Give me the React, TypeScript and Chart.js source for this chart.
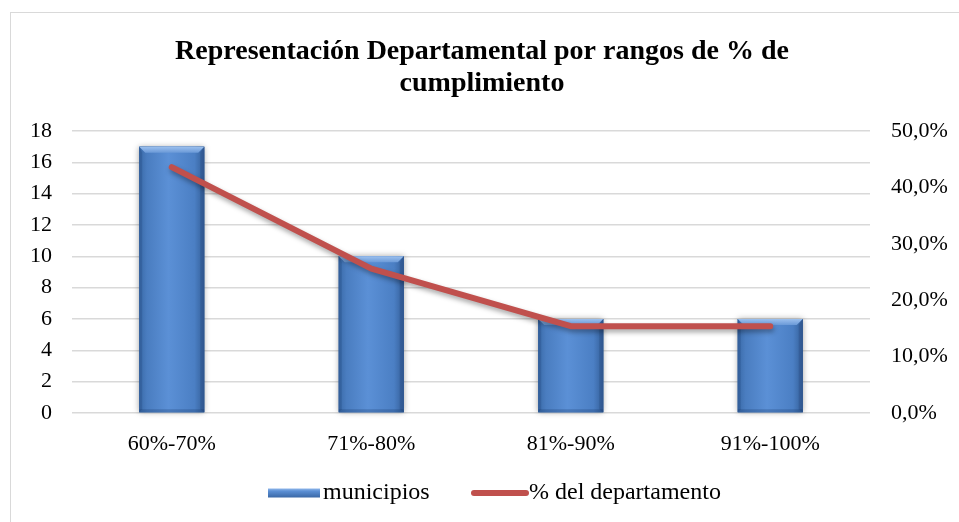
import React, { useEffect, useRef } from "react";
import { Chart, registerables } from "chart.js";

Chart.register(...registerables);

const categories = ["60%-70%", "71%-80%", "81%-90%", "91%-100%"];
const municipios = [17, 10, 6, 6];
const porcentaje = [43.6, 25.6, 15.4, 15.4];
const leftTicks = [0, 2, 4, 6, 8, 10, 12, 14, 16, 18];
const rightTicks = [0, 10, 20, 30, 40, 50];
const titleLines = ["Representación Departamental por rangos de % de", "cumplimiento"];
const seriesLabels = ["municipios", "% del departamento"];

const FONT = "'Liberation Serif', 'Times New Roman', serif";
const BAR_BASE = "#4f81bd";
const LINE_COLOR = "#c0504d";

function barGradient(ctx: CanvasRenderingContext2D, x0: number, x1: number) {
  const g = ctx.createLinearGradient(x0, 0, x1, 0);
  g.addColorStop(0, "#3a6aa8");
  g.addColorStop(0.12, "#4a7dc0");
  g.addColorStop(0.45, "#5b90d6");
  g.addColorStop(0.85, "#4b7fc4");
  g.addColorStop(1, "#345f99");
  return g;
}

const decorPlugin = {
  id: "decor",
  beforeDatasetDraw(chart: any, args: any) {
    const ctx = chart.ctx;
    ctx.save();
    if (args.index === 1) {
      ctx.shadowColor = "rgba(0,0,0,0.35)";
      ctx.shadowBlur = 5;
      ctx.shadowOffsetY = 3;
      ctx.shadowOffsetX = 1;
    }
  },
  afterDatasetDraw(chart: any, args: any) {
    const ctx = chart.ctx;
    ctx.restore();
    if (args.index === 0) {
      const meta = chart.getDatasetMeta(0);
      meta.data.forEach((bar: any) => {
        const w = bar.width;
        const x0 = bar.x - w / 2;
        const x1 = bar.x + w / 2;
        const top = bar.y;
        const bottom = bar.base;
        ctx.save();
        ctx.shadowColor = "rgba(0,0,0,0.35)";
        ctx.shadowBlur = 6;
        ctx.fillStyle = barGradient(ctx, x0, x1);
        ctx.fillRect(x0, top, w, bottom - top);
        ctx.restore();
        ctx.save();
        ctx.fillStyle = barGradient(ctx, x0, x1);
        ctx.fillRect(x0, top, w, bottom - top);
        const b = 6;
        const tg = ctx.createLinearGradient(0, top, 0, top + b);
        tg.addColorStop(0, "#9cc0ee");
        tg.addColorStop(1, "#6b9ad8");
        ctx.fillStyle = tg;
        ctx.beginPath();
        ctx.moveTo(x0, top);
        ctx.lineTo(x1, top);
        ctx.lineTo(x1 - b, top + b);
        ctx.lineTo(x0 + b, top + b);
        ctx.closePath();
        ctx.fill();
        ctx.fillStyle = "rgba(30,60,110,0.25)";
        ctx.beginPath();
        ctx.moveTo(x1, top);
        ctx.lineTo(x1, bottom);
        ctx.lineTo(x1 - 4, bottom - 3);
        ctx.lineTo(x1 - 4, top + 6);
        ctx.closePath();
        ctx.fill();
        ctx.fillStyle = "rgba(20,50,100,0.2)";
        ctx.beginPath();
        ctx.moveTo(x0, top);
        ctx.lineTo(x0, bottom);
        ctx.lineTo(x0 + 3, bottom - 3);
        ctx.lineTo(x0 + 3, top + 6);
        ctx.closePath();
        ctx.fill();
        ctx.fillStyle = "rgba(20,50,100,0.25)";
        ctx.fillRect(x0, bottom - 3, w, 3);
        ctx.restore();
      });
    }
  },
  afterDraw(chart: any) {
    const ctx = chart.ctx;
    ctx.save();
    ctx.fillStyle = "#000";
    ctx.textAlign = "center";
    ctx.textBaseline = "alphabetic";
    ctx.font = `bold 28px ${FONT}`;
    ctx.fillText(titleLines[0], 482, 59);
    ctx.fillText(titleLines[1], 482, 91);

    const ly = 493;
    ctx.font = `24px ${FONT}`;
    ctx.textAlign = "left";
    ctx.textBaseline = "middle";
    const bx = 268, bw = 52, bh = 9;
    const g = ctx.createLinearGradient(0, ly - bh / 2, 0, ly + bh / 2);
    g.addColorStop(0, "#8fb6ea");
    g.addColorStop(0.3, "#5b8fd4");
    g.addColorStop(1, "#3a68a6");
    ctx.fillStyle = g;
    ctx.fillRect(bx, ly - bh / 2, bw, bh);
    ctx.fillStyle = "#000";
    ctx.fillText(seriesLabels[0], bx + bw + 3, ly);
    const lx = 471, lw = 55;
    ctx.strokeStyle = LINE_COLOR;
    ctx.lineWidth = 6;
    ctx.lineCap = "round";
    ctx.beginPath();
    ctx.moveTo(lx + 3, ly);
    ctx.lineTo(lx + lw, ly);
    ctx.stroke();
    ctx.fillText(seriesLabels[1], lx + lw + 3, ly);
    ctx.restore();
  },
};

export default function App() {
  const ref = useRef<HTMLCanvasElement | null>(null);
  useEffect(() => {
    document.body.style.margin = "0";
    const canvas = ref.current!;
    const chart = new Chart(canvas, {
      type: "bar",
      data: {
        labels: categories,
        datasets: [
          {
            type: "bar",
            label: seriesLabels[0],
            data: municipios,
            backgroundColor: BAR_BASE,
            yAxisID: "y",
            order: 2,
            barPercentage: 0.326,
            categoryPercentage: 1,
          },
          {
            type: "line",
            label: seriesLabels[1],
            data: porcentaje,
            borderColor: LINE_COLOR,
            borderWidth: 6,
            borderCapStyle: "round",
            borderJoinStyle: "round",
            pointRadius: 0,
            tension: 0,
            yAxisID: "y1",
            order: 1,
          } as any,
        ],
      },
      options: {
        animation: false,
        responsive: false,
        maintainAspectRatio: false,
        layout: { padding: { top: 131, bottom: 59, left: 0, right: 0 } },
        plugins: {
          legend: { display: false },
          title: { display: false },
          tooltip: { enabled: false },
        },
        scales: {
          x: {
            grid: { display: false, drawTicks: false },
            border: { display: false },
            ticks: { font: { family: FONT, size: 22 }, color: "#000", padding: 18 },
            afterFit: (s: any) => { s.height = 50; },
          },
          y: {
            position: "left",
            min: 0,
            max: 18,
            afterBuildTicks: (s: any) => { s.ticks = leftTicks.map((v) => ({ value: v })); },
            grid: { color: "#d9d9d9", lineWidth: 1.5, drawTicks: false },
            border: { display: false },
            ticks: { font: { family: FONT, size: 22 }, color: "#000", padding: 20 },
            afterFit: (s: any) => { s.width = 72; },
          },
          y1: {
            position: "right",
            min: 0,
            max: 50,
            afterBuildTicks: (s: any) => { s.ticks = rightTicks.map((v) => ({ value: v })); },
            grid: { display: false, drawTicks: false },
            border: { display: false },
            ticks: {
              font: { family: FONT, size: 22 },
              color: "#000",
              padding: 21,
              callback: (v: any) => Number(v).toFixed(1).replace(".", ",") + "%",
            },
            afterFit: (s: any) => { s.width = 89; },
          },
        },
      },
      plugins: [decorPlugin],
    });
    return () => chart.destroy();
  }, []);
  return (
    <div style={{ position: "relative", width: 959, height: 522, background: "#fff", overflow: "hidden" }}>
      <div style={{ position: "absolute", left: 10, top: 12, width: 1000, height: 600, border: "1.5px solid #d9d9d9" }} />
      <canvas ref={ref} width={959} height={522} style={{ position: "absolute", left: 0, top: 0, width: 959, height: 522 }} />
    </div>
  );
}
